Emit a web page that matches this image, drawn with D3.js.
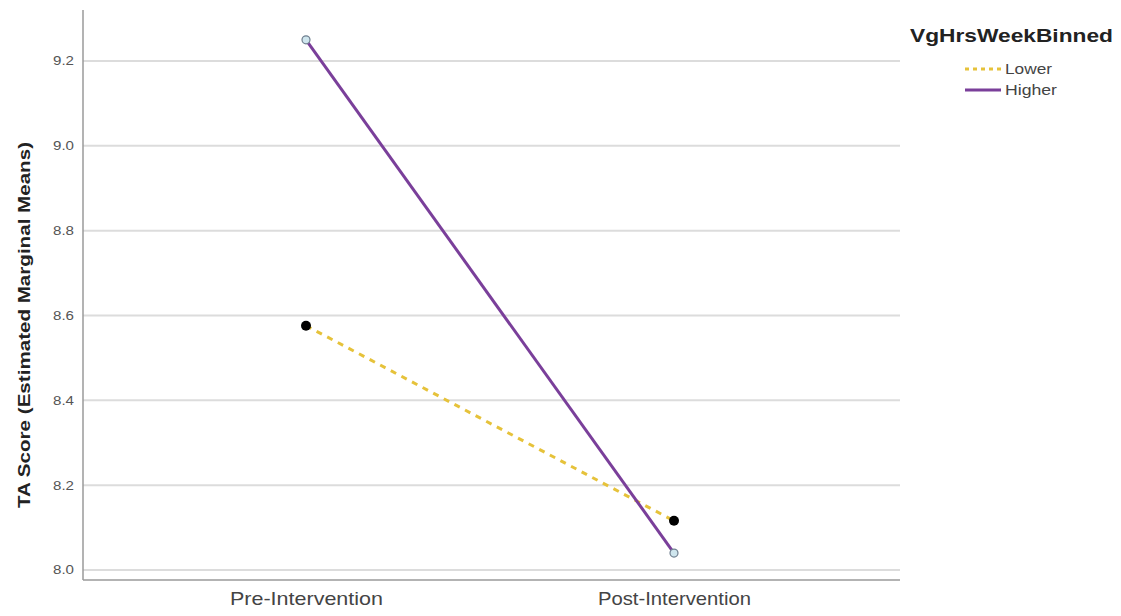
<!DOCTYPE html>
<html><head><meta charset="utf-8">
<script src="https://cdn.jsdelivr.net/npm/d3@7"></script>
<style>body{margin:0;background:#fff;} svg{display:block;}</style>
</head><body>
<svg id="c" width="1121" height="616"></svg>
<script>
const categories = ["Pre-Intervention", "Post-Intervention"];
const lowerValues = [8.576, 8.116];
const higherValues = [9.25, 8.04];
const yTicks = [8.0, 8.2, 8.4, 8.6, 8.8, 9.0, 9.2];
const seriesNames = ["Lower", "Higher"];
const legendTitle = "VgHrsWeekBinned";
const yTitle = "TA Score (Estimated Marginal Means)";

const FONT = "Liberation Sans, Arial, sans-serif";
const svg = d3.select("#c");
const x = d3.scalePoint().domain(categories).range([306, 674]);
const y = d3.scaleLinear().domain([8.0, 9.2]).range([570, 61]);

// gridlines
svg.append("g").selectAll("line").data(yTicks).join("line")
  .attr("x1", 83).attr("x2", 900)
  .attr("y1", d => y(d)).attr("y2", d => y(d))
  .attr("stroke", "#dcdcdc").attr("stroke-width", 2);

// y axis
const yAxis = d3.axisLeft(y).tickValues(yTicks).tickFormat(d3.format(".1f")).tickSize(0).tickPadding(9);
const gy = svg.append("g").attr("transform", "translate(83,0)").call(yAxis);
gy.select(".domain").remove();
gy.selectAll("text").attr("font-family", FONT).attr("font-size", 12).attr("fill", "#555")
  .attr("textLength", 21).attr("lengthAdjust", "spacingAndGlyphs");
svg.append("line").attr("x1", 83).attr("x2", 83).attr("y1", 10).attr("y2", 580).attr("stroke", "#9a9a9a").attr("stroke-width", 1.5);

// x axis
const xAxis = d3.axisBottom(x).tickSize(0).tickPadding(12);
const gx = svg.append("g").attr("transform", "translate(0,580)").call(xAxis);
gx.select(".domain").remove();
gx.selectAll("text").attr("font-family", FONT).attr("font-size", 19).attr("fill", "#444")
  .attr("textLength", 153).attr("lengthAdjust", "spacingAndGlyphs");
svg.append("line").attr("x1", 83).attr("x2", 900).attr("y1", 580).attr("y2", 580).attr("stroke", "#9a9a9a").attr("stroke-width", 1.5);

// y title
svg.append("text").attr("transform", "translate(30,325) rotate(-90)")
  .attr("text-anchor", "middle").attr("font-family", FONT)
  .attr("font-size", 17).attr("font-weight", "bold").attr("fill", "#222")
  .attr("textLength", 366).attr("lengthAdjust", "spacingAndGlyphs")
  .text(yTitle);

const line = d3.line().x((d, i) => x(categories[i])).y(d => y(d));

// lower
svg.append("path").datum(lowerValues).attr("d", line).attr("fill", "none")
  .attr("stroke", "#e6c23a").attr("stroke-width", 3).attr("stroke-dasharray", "6,6");
// higher
svg.append("path").datum(higherValues).attr("d", line).attr("fill", "none")
  .attr("stroke", "#7a3f9a").attr("stroke-width", 3);

svg.append("g").selectAll("circle").data(lowerValues).join("circle")
  .attr("cx", (d, i) => x(categories[i])).attr("cy", d => y(d)).attr("r", 5).attr("fill", "#000");
svg.append("g").selectAll("circle").data(higherValues).join("circle")
  .attr("cx", (d, i) => x(categories[i])).attr("cy", d => y(d)).attr("r", 4)
  .attr("fill", "#cfe6ee").attr("stroke", "#6f7f8f").attr("stroke-width", 1.2);

// legend
svg.append("text").attr("x", 910).attr("y", 42).attr("font-family", FONT)
  .attr("font-size", 19).attr("font-weight", "bold").attr("fill", "#222")
  .attr("textLength", 203).attr("lengthAdjust", "spacingAndGlyphs").text(legendTitle);
const lg = svg.append("g");
const styles = [{c: "#e6c23a", dash: "4,4"}, {c: "#7a3f9a", dash: null}];
const textLens = [47, 52];
seriesNames.forEach((n, i) => {
  const yy = 69 + i * 21;
  lg.append("line").attr("x1", 965).attr("x2", 1001).attr("y1", yy).attr("y2", yy)
    .attr("stroke", styles[i].c).attr("stroke-width", 3).attr("stroke-dasharray", styles[i].dash);
  lg.append("text").attr("x", 1005).attr("y", yy + 5).attr("font-family", FONT)
    .attr("font-size", 15).attr("fill", "#444")
    .attr("textLength", textLens[i]).attr("lengthAdjust", "spacingAndGlyphs").text(n);
});
</script>
</body></html>
